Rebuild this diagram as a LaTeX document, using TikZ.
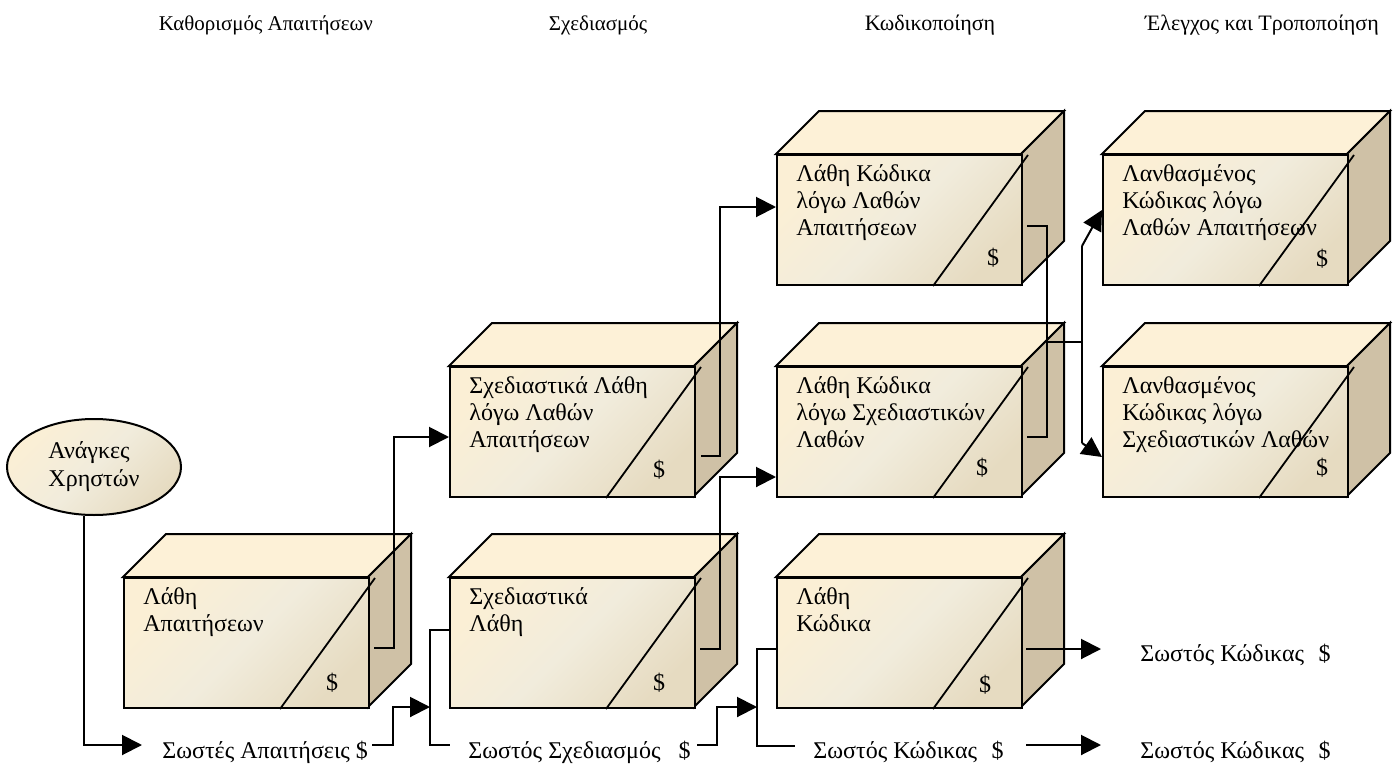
\documentclass[tikz,border=0pt]{standalone}
\usepackage{fontspec}
\setmainfont{Liberation Serif}
\usetikzlibrary{arrows.meta,calc,shapes.geometric}

\definecolor{cubetop}{HTML}{FDF1D7}
\definecolor{cubeside}{HTML}{CFC1A6}
\definecolor{frontA}{HTML}{FBEFD5}
\definecolor{frontB}{HTML}{F1ECDC}
\definecolor{frontC}{HTML}{E6DBC1}

\tikzset{
  face/.style={draw=black, line width=1pt, line join=miter},
  front/.style={face, rectangle, anchor=north west, inner sep=0pt,
    minimum width=122.5pt, minimum height=65pt,
    top color=frontA, bottom color=frontC, middle color=frontB, shading angle=45},
  slash/.style={draw=black, line width=0.9pt},
  boxtext/.style={anchor=north west, inner sep=0pt, align=left,
    font=\fontsize{12}{13.5}\selectfont},
  dollar/.style={inner sep=0pt, font=\fontsize{12}{13.5}\selectfont},
  lbl/.style={anchor=base west, inner sep=0pt, font=\fontsize{12}{13.5}\selectfont},
  heading/.style={anchor=base, inner sep=0pt, font=\fontsize{10.5}{12.5}\selectfont},
  ell/.style={ellipse, draw=black, line width=1pt, inner sep=0pt,
    minimum width=87pt, minimum height=48pt, align=left,
    top color=frontA, bottom color=frontC, middle color=frontB, shading angle=45,
    font=\fontsize{12}{14}\selectfont},
  conn/.style={draw=black, line width=1pt},
  arr/.style={conn, -{Triangle[length=10pt,width=10pt]}},
}

% a cost box: #1 name, #2 left, #3 top of the front face, #4 text, #5/#6 place of the $ sign
\newcommand\costbox[6]{%
  \draw[face, fill=cubetop] (#2,#3) -- ++(43,-43) -- ++(245,0) -- ++(-43,43) -- cycle;
  \draw[face, fill=cubeside] (#2+245,#3) -- ++(43,-43) -- ++(0,130) -- ++(-43,43) -- cycle;
  \node[front] (#1) at (#2,#3) {};
  \draw[slash] ($(#1.south east)+(-90,0)$) -- ($(#1.north east)+(5,1)$);
  \node[boxtext] (#1-t) at ($(#1.north west)+(20,10)$) {#4};
  \node[dollar] (#1-d) at ($(#1.north west)+(#5,#6)$) {\$};
}

\begin{document}
\begin{tikzpicture}[x=0.5pt,y=-0.5pt]
\useasboundingbox (0,0) rectangle (1399,766);

% phase headings
\node[heading] (h1) at (266,30) {Καθορισμός Απαιτήσεων};
\node[heading] (h2) at (598,30) {Σχεδιασμός};
\node[heading, font=\fontsize{11}{13}\selectfont] (h3) at (930,30) {Κωδικοποίηση};
\node[heading, font=\fontsize{11}{13}\selectfont] (h4) at (1262,30) {Έλεγχος και Τροποποίηση};

% user needs
\node[ell] (need) at (94,467) {Ανάγκες\\Χρηστών};

% boxes
\costbox{b1}{123}{577}{Λάθη\\Απαιτήσεων}{209}{106}
\costbox{b2}{449}{366}{Σχεδιαστικά Λάθη\\λόγω Λαθών\\Απαιτήσεων}{210}{104}
\costbox{b3}{449}{577}{Σχεδιαστικά\\Λάθη}{210}{106}
\costbox{b4}{776}{154}{Λάθη Κώδικα\\λόγω Λαθών\\Απαιτήσεων}{217}{104}
\costbox{b5}{776}{366}{Λάθη Κώδικα\\λόγω Σχεδιαστικών\\Λαθών}{206}{102}
\costbox{b6}{776}{577}{Λάθη\\Κώδικα}{209}{108}
\costbox{b7}{1102}{154}{Λανθασμένος\\Κώδικας λόγω\\Λαθών Απαιτήσεων}{220}{105}
\costbox{b8}{1102}{366}{Λανθασμένος\\Κώδικας λόγω\\Σχεδιαστικών Λαθών}{220}{102}

% correct outputs
\node[lbl] (ok1) at (162,758) {Σωστές Απαιτήσεις \$};
\node[lbl] (ok2) at (468,758) {Σωστός Σχεδιασμός\hspace{0.75em}\$};
\node[lbl] (ok3) at (813,758) {Σωστός Κώδικας\hspace{0.6em}\$};
\node[lbl] (ok4) at (1140,661) {Σωστός Κώδικας\hspace{0.6em}\$};
\node[lbl] (ok5) at (1140,758) {Σωστός Κώδικας\hspace{0.6em}\$};

% junction and fork points
\coordinate (j1) at (430,707);
\coordinate (j1t) at (430,630);
\coordinate (j1b) at (430,745);
\coordinate (j2) at (757,707);
\coordinate (j2t) at (757,649);
\coordinate (j2b) at (757,746);
\coordinate (fk) at (1082,342);
\coordinate (fkt) at (1082,246);
\coordinate (fkb) at (1082,443);

% requirements phase
\draw[arr] ($(need.south)+(-10,0)$) |- ($(ok1.base west)+(-20,-13)$);
\draw[arr] ($(ok1.base east)+(4,-13)$) -- ++(21,0) |- (j1);
\draw[arr] ($(b1.north east)+(4,71)$) -- ++(20,0) |- ($(b2.north west)+(0,71)$);

% design phase
\draw[conn] ($(b3.north west)+(0,53)$) -- (j1t) -- (j1b) -- ($(ok2.base west)+(-18,-13)$);
\draw[arr] ($(ok2.base east)+(6,-13)$) -- ++(20,0) |- (j2);
\draw[arr] ($(b2.north east)+(5,90)$) -- ++(19,0) |- ($(b4.north west)+(0,53)$);
\draw[arr] ($(b3.north east)+(4,72)$) -- ++(20,0) |- ($(b5.north west)+(0,111)$);

% coding phase
\draw[conn] ($(b6.north west)+(0,72)$) -- (j2t) -- (j2b) -- ($(ok3.base west)+(-18,-12)$);
\draw[arr] ($(b6.north east)+(3,72)$) -- ($(ok4.base west)+(-39,-12)$);
\draw[arr] ($(ok3.base east)+(22,-13)$) -- ($(ok5.base west)+(-39,-13)$);
\draw[conn] ($(b4.north east)+(4,72)$) -- ++(20,0) |- ($(b5.north east)+(4,71)$);

% testing phase
\draw[conn] ($(b4.north east)+(24,188)$) -- (fk);
\draw[conn] (fkt) -- (fkb);
\draw[arr] (fkt) -- ($(b8.north west)+(0,-156)$);
\draw[arr] (fkb) -- ($(b8.north west)+(0,91)$);
\end{tikzpicture}
\end{document}
